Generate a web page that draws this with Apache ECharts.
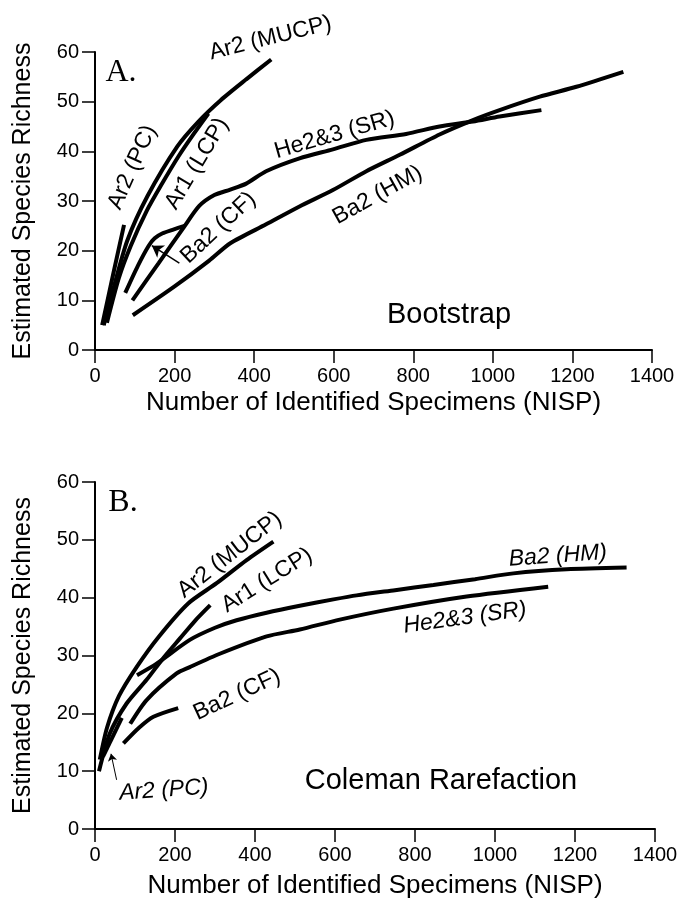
<!DOCTYPE html>
<html>
<head>
<meta charset="utf-8">
<script src="https://cdn.jsdelivr.net/npm/echarts@6/dist/echarts.min.js"></script>
<style>
  html, body { margin: 0; padding: 0; background: #fff; }
  #chart { width: 679px; height: 900px; }
</style>
</head>
<body>
<div id="chart"></div>
<script>
// axis ranges (both panels)
const xMax = 1400, xStep = 200
const yMax = 60, yStep = 10

// A. Bootstrap curves, [NISP, richness]
const bootAr2PC = [[18, 5], [45, 15], [73, 25.2]]
const bootAr2MUCP = [[22, 5], [45, 12], [81, 22], [132, 31], [207, 41], [260, 46], [316, 50.3], [380, 54.5], [443, 58.5]]
const bootAr1LCP = [[30, 5.5], [60, 14.5], [90, 21], [130, 28], [165, 33], [210, 39], [249, 43.6], [285, 47.6]]
const bootBa2CF = [[76, 11.5], [108, 17], [135, 21], [150, 22.5], [170, 23.5], [195, 24.2], [225, 25]]
const bootHe23SR = [[94, 10], [160, 17.5], [224, 24.8], [262, 29], [300, 31.2], [340, 32.3], [380, 33.5], [430, 36], [514, 38.6], [598, 40.4], [682, 42.3], [782, 43.5], [866, 45], [950, 46], [1017, 47], [1122, 48.3]]
const bootBa2HM = [[95, 7], [200, 12.8], [287, 18], [340, 21.5], [430, 25.3], [514, 28.9], [598, 32.2], [682, 36], [766, 39.3], [866, 43.4], [950, 46.3], [1017, 48.3], [1118, 51], [1210, 53], [1328, 56]]

// B. Coleman rarefaction curves
const colAr2PC = [[20, 12.5], [67, 19.2]]
const colAr2MUCP = [[12, 12], [30, 17.5], [60, 23], [104, 28], [160, 33.3], [233, 39], [304, 42.5], [379, 46.5], [446, 49.7]]
const colAr1LCP = [[10, 10], [37, 16.5], [79, 21.7], [129, 25.8], [170, 29.5], [213, 33], [250, 36], [288, 38.7]]
const colBa2CF = [[71, 14.8], [110, 17.5], [146, 19.4], [208, 20.9]]
const colHe23SR = [[88, 18.2], [129, 22.3], [204, 26.9], [237, 28], [312, 30.3], [429, 33.3], [512, 34.5], [612, 36.2], [746, 38.1], [929, 40.2], [1133, 41.9]]
const colBa2HM = [[105, 26.6], [154, 28.6], [237, 32.7], [300, 34.8], [354, 36.1], [429, 37.4], [512, 38.6], [596, 39.7], [654, 40.4], [750, 41.3], [846, 42.2], [950, 43.2], [1046, 44.2], [1179, 44.9], [1329, 45.2]]

// curve labels, placed in data coords (text, x, y, angle, italic)
const bootLabels = [
  ['Ar2 (MUCP)', 441, 62.8, 14, false],
  ['Ar2 (PC)', 94, 36.8, 66, false],
  ['Ar1 (LCP)', 256, 37.5, 59, false],
  ['Ba2 (CF)', 310, 24.6, 43, false],
  ['He2&3 (SR)', 602, 43.3, 16, false],
  ['Ba2 (HM)', 710, 31.2, 29, false],
]
const colLabels = [
  ['Ar2 (MUCP)', 337, 47.4, 38, false],
  ['Ar1 (LCP)', 430, 43, 32, false],
  ['Ba2 (CF)', 355, 23.2, 25, false],
  ['Ba2 (HM)', 1157, 47.2, 4, true],
  ['He2&3 (SR)', 925, 36.5, 8, true],
  ['Ar2 (PC)', 172, 6.7, 4, true],
]

const sans = 'Liberation Sans, Arial, sans-serif'
const chart = echarts.init(document.getElementById('chart'), null, { renderer: 'canvas' })

function xAxis(gridIndex, gap) {
  return {
    type: 'value', gridIndex, min: 0, max: xMax, interval: xStep,
    name: 'Number of Identified Specimens (NISP)',
    nameLocation: 'middle', nameGap: gap,
    nameTextStyle: { fontFamily: sans, fontSize: 26, color: '#000' },
    axisLine: { show: true, lineStyle: { color: '#000', width: 2 } },
    axisTick: { show: true, length: 13, lineStyle: { color: '#000', width: 1.5 } },
    axisLabel: { fontFamily: sans, fontSize: 20, color: '#000', margin: 16, formatter: v => String(v) },
    splitLine: { show: false },
  }
}
function yAxis(gridIndex) {
  return {
    type: 'value', gridIndex, min: 0, max: yMax, interval: yStep,
    name: 'Estimated Species Richness',
    nameLocation: 'middle', nameGap: 59,
    nameTextStyle: { fontFamily: sans, fontSize: 25, color: '#000' },
    axisLine: { show: true, lineStyle: { color: '#000', width: 2 } },
    axisTick: { show: true, length: 13, lineStyle: { color: '#000', width: 1.5 } },
    axisLabel: { fontFamily: sans, fontSize: 20, color: '#000', margin: 16, formatter: v => String(v) },
    splitLine: { show: false },
  }
}
function curve(data, idx, extra) {
  return Object.assign({
    type: 'line', xAxisIndex: idx, yAxisIndex: idx, data,
    smooth: 0.25, showSymbol: false, symbol: 'none', silent: true,
    lineStyle: { color: '#000', width: 4 },
  }, extra || {})
}
function arrow(from, to, width, size) {
  return {
    silent: true, symbol: ['none', 'arrow'], symbolSize: size,
    lineStyle: { color: '#000', width, type: 'solid' },
    label: { show: false },
    data: [[{ coord: from }, { coord: to }]],
  }
}

chart.setOption({
  animation: false,
  backgroundColor: '#fff',
  grid: [
    { left: 95, top: 52, width: 557, height: 298, outerBoundsMode: 'none' },
    { left: 95, top: 482, width: 560, height: 347, outerBoundsMode: 'none' },
  ],
  xAxis: [xAxis(0, 40), xAxis(1, 44)],
  yAxis: [yAxis(0), yAxis(1)],
  series: [
    curve(bootAr2PC, 0),
    curve(bootAr2MUCP, 0),
    curve(bootAr1LCP, 0),
    curve(bootBa2CF, 0, { markLine: arrow([212, 17.5], [143, 21], 1.5, 11) }),
    curve(bootHe23SR, 0),
    curve(bootBa2HM, 0),
    curve(colAr2PC, 1, { markLine: arrow([54, 8.5], [40, 13], 1, 7) }),
    curve(colAr2MUCP, 1),
    curve(colAr1LCP, 1),
    curve(colBa2CF, 1),
    curve(colHe23SR, 1),
    curve(colBa2HM, 1),
  ],
})

// texts: panel letters, method names, curve labels
const texts = [
  { type: 'text', x: 121, y: 73, style: { text: 'A.', font: '32px "Liberation Serif", serif', fill: '#000', textAlign: 'center', textVerticalAlign: 'middle' } },
  { type: 'text', x: 123, y: 503, style: { text: 'B.', font: '32px "Liberation Serif", serif', fill: '#000', textAlign: 'center', textVerticalAlign: 'middle' } },
  { type: 'text', x: 449, y: 315, style: { text: 'Bootstrap', font: '29px "Liberation Sans", Arial, sans-serif', fill: '#000', textAlign: 'center', textVerticalAlign: 'middle' } },
  { type: 'text', x: 441, y: 781, style: { text: 'Coleman Rarefaction', font: '29px "Liberation Sans", Arial, sans-serif', fill: '#000', textAlign: 'center', textVerticalAlign: 'middle' } },
]
function addLabels(list, gridIndex) {
  list.forEach(([t, x, y, ang, it]) => {
    const p = chart.convertToPixel({ gridIndex }, [x, y])
    texts.push({
      type: 'text', x: p[0], y: p[1], rotation: ang * Math.PI / 180,
      style: {
        text: t, fill: '#000', textAlign: 'center', textVerticalAlign: 'middle',
        font: (it ? 'italic ' : '') + '23px "Liberation Sans", Arial, sans-serif',
      },
    })
  })
}
addLabels(bootLabels, 0)
addLabels(colLabels, 1)
chart.setOption({ graphic: texts })
</script>
</body>
</html>
